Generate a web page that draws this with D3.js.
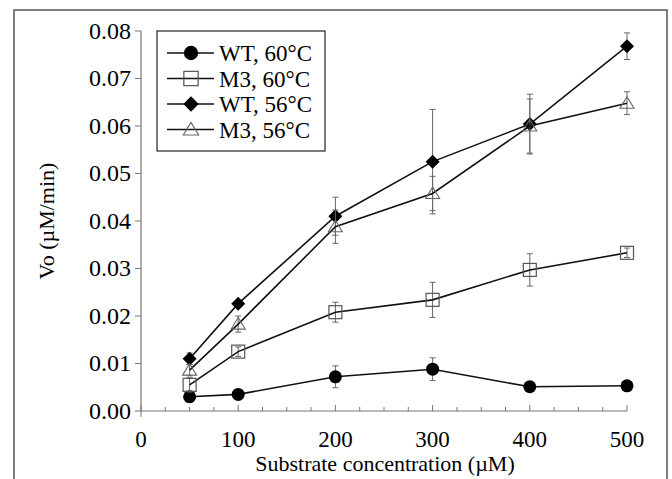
<!DOCTYPE html>
<html>
<head>
<meta charset="utf-8">
<script src="https://cdn.jsdelivr.net/npm/d3@7"></script>
<style>
  body { margin: 0; background: #fff; }
  text { font-family: "Liberation Serif", "Times New Roman", serif; }
</style>
</head>
<body>
<div id="chart-area"></div>
<script>
const width = 672, height = 479;
const margin = { top: 31, right: 45, bottom: 68, left: 141 };

// substrate concentrations (µM)
const conc = [50, 100, 200, 300, 400, 500];
const wt60 = [0.0030, 0.0035, 0.0072, 0.0088, 0.0051, 0.0053];
const wt60Err = [0.0012, 0.0005, 0.0023, 0.0024, 0.0005, 0.0005];
const m360 = [0.0055, 0.0125, 0.0208, 0.0234, 0.0297, 0.0333];
const m360Err = [0.0015, 0.0010, 0.0021, 0.0037, 0.0034, 0.0010];
const wt56 = [0.0110, 0.0226, 0.0410, 0.0525, 0.0604, 0.0768];
const wt56Err = [0.0012, 0.0005, 0.0040, 0.0110, 0.0063, 0.0028];
const m356 = [0.0086, 0.0183, 0.0388, 0.0458, 0.0600, 0.0648];
const m356Err = [0.0012, 0.0017, 0.0035, 0.0036, 0.0057, 0.0024];
const seriesNames = ["WT, 60°C", "M3, 60°C", "WT, 56°C", "M3, 56°C"];
const xTicks = [0, 100, 200, 300, 400, 500];
const yTicks = [0, 0.01, 0.02, 0.03, 0.04, 0.05, 0.06, 0.07, 0.08];

const series = [
  { name: seriesNames[0], vals: wt60, err: wt60Err, sym: "circle" },
  { name: seriesNames[1], vals: m360, err: m360Err, sym: "square" },
  { name: seriesNames[2], vals: wt56, err: wt56Err, sym: "diamond" },
  { name: seriesNames[3], vals: m356, err: m356Err, sym: "triangle" }
];

const svg = d3.select("#chart-area").append("svg")
  .attr("width", width).attr("height", height);

// outer frame
svg.append("path")
  .attr("d", `M14,${height + 2} L14,10 L667,10 L667,${height + 2}`)
  .attr("fill", "none").attr("stroke", "#555").attr("stroke-width", 1.5);

const innerW = 627 - margin.left;
const innerH = 411 - margin.top;

const x = d3.scaleLinear().domain([0, 500]).range([0, innerW]);
const y = d3.scaleLinear().domain([0, 0.08]).range([innerH, 0]);

const g = svg.append("g").attr("transform", `translate(${margin.left}, ${margin.top})`);

// x axis: ticks point inward
const xAxis = g.append("g").attr("transform", `translate(0, ${innerH})`);
xAxis.append("line").attr("x1", 0).attr("x2", innerW).attr("stroke", "#777").attr("stroke-width", 1.2);
xAxis.selectAll(".minor").data(d3.range(25, 500, 25).filter(v => v % 100 !== 0))
  .enter().append("line")
  .attr("x1", d => x(d)).attr("x2", d => x(d))
  .attr("y1", 0).attr("y2", -4)
  .attr("stroke", "#777");
xAxis.selectAll(".major").data(xTicks).enter().append("line")
  .attr("x1", d => x(d)).attr("x2", d => x(d))
  .attr("y1", d => d === 0 ? 6 : 0).attr("y2", -6)
  .attr("stroke", "#777");
xAxis.selectAll(".lbl").data(xTicks).enter().append("text")
  .attr("x", d => x(d)).attr("y", 36)
  .attr("text-anchor", "middle")
  .attr("font-size", "23px")
  .text(d => d);

// y axis: ticks point outward
const yAxis = g.append("g");
yAxis.append("line").attr("y1", 0).attr("y2", innerH).attr("stroke", "#777").attr("stroke-width", 1.2);
yAxis.selectAll(".major").data(yTicks).enter().append("line")
  .attr("x1", -6).attr("x2", 0)
  .attr("y1", d => y(d)).attr("y2", d => y(d))
  .attr("stroke", "#777");
yAxis.selectAll(".lbl").data(yTicks).enter().append("text")
  .attr("x", -10).attr("y", d => y(d))
  .attr("dy", "0.33em")
  .attr("text-anchor", "end")
  .attr("font-size", "24px")
  .text(d => d3.format(".2f")(d));

svg.append("text")
  .attr("transform", `translate(54, 221) rotate(-90)`)
  .attr("text-anchor", "middle")
  .attr("font-size", "22px")
  .text("Vo (µM/min)");

svg.append("text")
  .attr("x", 385).attr("y", 471)
  .attr("text-anchor", "middle")
  .attr("font-size", "22px")
  .text("Substrate concentration (µM)");

function drawSymbol(sel, sym, k) {
  k = k || 1;
  if (sym === "circle") {
    sel.append("circle").attr("r", 6.5 * k).attr("fill", "#000");
  } else if (sym === "square") {
    sel.append("rect").attr("x", -6.5 * k).attr("y", -6.5 * k).attr("width", 13 * k).attr("height", 13 * k)
      .attr("fill", "none").attr("stroke", "#555").attr("stroke-width", 1.2);
  } else if (sym === "diamond") {
    sel.append("path").attr("d", `M0,${-7 * k} L${7 * k},0 L0,${7 * k} L${-7 * k},0 Z`).attr("fill", "#000");
  } else {
    sel.append("path").attr("d", `M0,${-6.5 * k} L${7 * k},${5 * k} L${-7 * k},${5 * k} Z`)
      .attr("fill", "none").attr("stroke", "#666").attr("stroke-width", 1.1);
  }
}

const line = d3.line().x(d => x(d.c)).y(d => y(d.v));

series.forEach(s => {
  const pts = conc.map((c, i) => ({ c: c, v: s.vals[i], e: s.err[i] }));
  const sg = g.append("g");
  // error bars
  const eb = sg.selectAll(".err").data(pts).enter().append("g")
    .attr("stroke", "#666").attr("stroke-width", 1);
  eb.append("line")
    .attr("x1", d => x(d.c)).attr("x2", d => x(d.c))
    .attr("y1", d => y(d.v - d.e)).attr("y2", d => y(d.v + d.e));
  eb.append("line")
    .attr("x1", d => x(d.c) - 3).attr("x2", d => x(d.c) + 3)
    .attr("y1", d => y(d.v + d.e)).attr("y2", d => y(d.v + d.e));
  eb.append("line")
    .attr("x1", d => x(d.c) - 3).attr("x2", d => x(d.c) + 3)
    .attr("y1", d => y(d.v - d.e)).attr("y2", d => y(d.v - d.e));
  sg.append("path").datum(pts)
    .attr("d", line)
    .attr("fill", "none").attr("stroke", "#111").attr("stroke-width", 1.6);
  sg.selectAll(".pt").data(pts).enter().append("g")
    .attr("transform", d => `translate(${x(d.c)}, ${y(d.v)})`)
    .each(function () { drawSymbol(d3.select(this), s.sym); });
});

// legend
const legend = svg.append("g");
legend.append("rect")
  .attr("x", 157).attr("y", 31).attr("width", 168).attr("height", 120)
  .attr("fill", "#fff").attr("stroke", "#222").attr("stroke-width", 1.2);
series.forEach((s, i) => {
  const ly = 53 + i * 25.5;
  const row = legend.append("g").attr("transform", `translate(0, ${ly})`);
  row.append("line").attr("x1", 167).attr("x2", 214).attr("stroke", "#111").attr("stroke-width", 1.5);
  const m = row.append("g").attr("transform", "translate(191, 0)");
  drawSymbol(m, s.sym, 1.1);
  row.append("text")
    .attr("x", 219).attr("y", 0).attr("dy", "0.35em")
    .attr("font-size", "23px")
    .text(s.name);
});
</script>
</body>
</html>
